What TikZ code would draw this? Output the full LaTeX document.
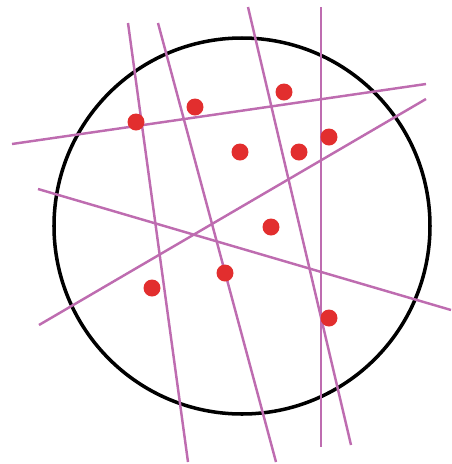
\documentclass[tikz,border=0pt]{standalone}
\usepackage{tikz,xcolor}
\usetikzlibrary{calc}
\definecolor{cutline}{RGB}{190,108,176}
\definecolor{pointred}{RGB}{226,46,46}

\begin{document}
\begin{tikzpicture}[x=0.03cm,y=-0.03cm,
  cut/.style={cutline,line width=2.1pt},
  rim/.style={black,line width=3pt},
  pt/.style={circle,fill=pointred,inner sep=0pt,minimum size=0.51cm}]
  \useasboundingbox (0,0) rectangle (452,464);

  % the disc
  \coordinate (c) at (242,226);
  \draw[rim] (c) circle (188);

  % cutting lines
  \coordinate (a1) at (128,23);  \coordinate (a2) at (188,462);
  \coordinate (b1) at (158,23);  \coordinate (b2) at (276,462);
  \coordinate (c1) at (248,7);   \coordinate (c2) at (351,445);
  \coordinate (d1) at (321,7);   \coordinate (d2) at (321,447);
  \coordinate (e1) at (12,144);  \coordinate (e2) at (426,84);
  \coordinate (f1) at (38,189);  \coordinate (f2) at (451,310);
  \coordinate (g1) at (39,325);  \coordinate (g2) at (426,99);

  \draw[cut] (a1) -- (a2);
  \draw[cut] (b1) -- (b2);
  \draw[cut] (c1) -- (c2);
  \draw[cut] (d1) -- (d2);
  \draw[cut] (e1) -- (e2);
  \draw[cut] (f1) -- (f2);
  \draw[cut] (g1) -- (g2);

  % points
  \node[pt] (p1)  at (136,122) {};
  \node[pt] (p2)  at (195,107) {};
  \node[pt] (p3)  at (284,92)  {};
  \node[pt] (p4)  at (240,152) {};
  \node[pt] (p5)  at (299,152) {};
  \node[pt] (p6)  at (329,137) {};
  \node[pt] (p7)  at (271,227) {};
  \node[pt] (p8)  at (225,273) {};
  \node[pt] (p9)  at (152,288) {};
  \node[pt] (p10) at (329,318) {};
\end{tikzpicture}
\end{document}
